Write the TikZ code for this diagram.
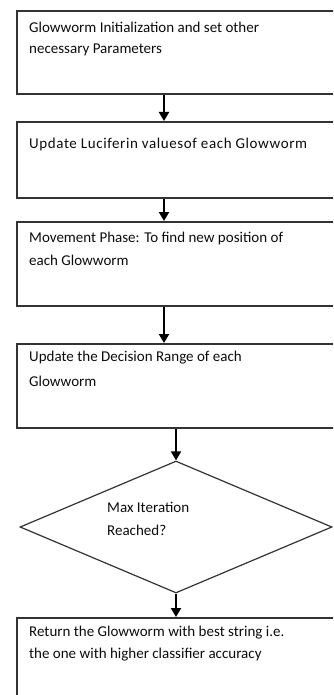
\documentclass[tikz,border=0pt]{standalone}
\usepackage{fontspec}
\setmainfont{Carlito}
\usetikzlibrary{shapes.geometric,arrows.meta}
\begin{document}
\begin{tikzpicture}[x=1pt,y=1pt,
  box/.style={draw=black!80, line width=2pt, anchor=north west, minimum width=340pt, inner sep=0pt},
  txt/.style={anchor=west, inner sep=0pt, font=\fontsize{15}{16}\selectfont, text=black!95},
  thickarr/.style={line width=2.8pt, -{Triangle[width=10pt,length=9pt]}},
  thinarr/.style={line width=2pt, -{Triangle[width=10pt,length=9pt]}},
  dia/.style={draw=black!80, line width=1.2pt, diamond, inner sep=0pt, minimum width=312pt, minimum height=132pt}]
\useasboundingbox (0,0) rectangle (333,-695);
\clip (0,0) rectangle (333,-695);
\fill[white] (0,0) rectangle (333,-695);
% boxes
\node[box, minimum height=83pt] (b1) at (16,-10) {};
\node[box, minimum height=76pt] (b2) at (16,-121) {};
\node[box, minimum height=84pt] (b3) at (16,-221) {};
\node[box, minimum height=84pt] (b4) at (16,-343) {};
\node[dia] (d) at (176,-527) {};
\node[box, minimum height=100pt] (b5) at (16,-617) {};
% texts
\node[txt] (t1a) at (29,-27) {Glowworm Initialization and set other};
\node[txt] (t1b) at (29,-50) {necessary Parameters};
\node[txt] (t2a) at (29,-145) {\addfontfeature{LetterSpace=4}Update Luciferin valuesof each Glowworm};
\node[txt] (t3a) at (29,-238) {Movement Phase: To find new position of};
\node[txt] (t3b) at (29,-260) {each Glowworm};
\node[txt] (t4a) at (29,-358) {Update the Decision Range of each};
\node[txt] (t4b) at (29,-381) {Glowworm};
\node[txt] (tda) at (107,-507) {Max Iteration};
\node[txt] (tdb) at (107,-530) {Reached?};
\node[txt] (t5a) at (29,-633) {Return the Glowworm with best string i.e.};
\node[txt] (t5b) at (29,-655) {the one with higher classifier accuracy};
% connectors
\coordinate (xa) at (164,0);
\coordinate (xb) at (176,0);
\draw[thickarr] (b1.south -| xa) -- (b2.north -| xa);
\draw[thickarr] (b2.south -| xa) -- (b3.north -| xa);
\draw[thickarr] (b3.south -| xa) -- (b4.north -| xa);
\draw[thinarr] (b4.south -| xb) -- (d.north);
\draw[thinarr] (d.south) -- (b5.north -| xb);
\end{tikzpicture}
\end{document}
